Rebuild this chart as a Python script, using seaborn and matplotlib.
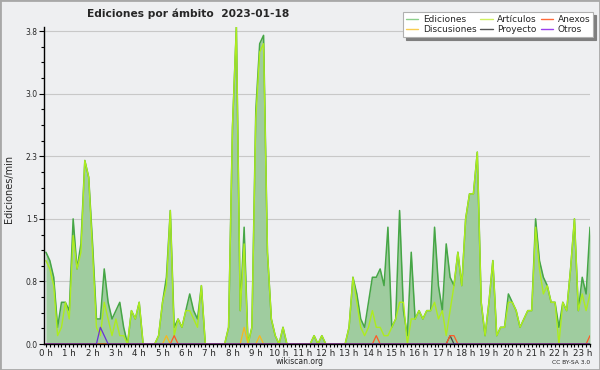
import numpy as np
import pandas as pd
import matplotlib
matplotlib.use("Agg")
import matplotlib.pyplot as plt
from matplotlib.lines import Line2D
from matplotlib.patches import Rectangle
import seaborn as sns

# Ediciones por minuto, tramos de 10 minutos (00:00 .. 23:20)
ediciones = [
    1.1, 1.0, 0.8, 0.2, 0.5, 0.5, 0.4, 1.5, 0.9, 1.2, 2.2, 2.0,
    1.2, 0.3, 0.3, 0.9, 0.5, 0.3, 0.4, 0.5, 0.2, 0.0, 0.4, 0.3,
    0.5, 0.0, 0.0, 0.0, 0.0, 0.1, 0.5, 0.8, 1.6, 0.2, 0.3, 0.2,
    0.4, 0.6, 0.4, 0.3, 0.7, 0.0, 0.0, 0.0, 0.0, 0.0, 0.0, 0.2,
    2.6, 3.8, 0.4, 1.4, 0.0, 0.2, 2.8, 3.6, 3.7, 1.1, 0.3, 0.1,
    0.0, 0.2, 0.0, 0.0, 0.0, 0.0, 0.0, 0.0, 0.0, 0.1, 0.0, 0.1,
    0.0, 0.0, 0.0, 0.0, 0.0, 0.0, 0.2, 0.8, 0.6, 0.3, 0.2, 0.5,
    0.8, 0.8, 0.9, 0.7, 1.4, 0.2, 0.3, 1.6, 0.4, 0.1, 1.1, 0.3,
    0.4, 0.3, 0.4, 0.4, 1.4, 0.7, 0.4, 1.2, 0.8, 0.7, 1.1, 0.7,
    1.5, 1.8, 1.8, 2.3, 0.5, 0.1, 0.5, 1.0, 0.1, 0.2, 0.2, 0.6,
    0.5, 0.4, 0.2, 0.3, 0.4, 0.4, 1.5, 1.0, 0.8, 0.7, 0.5, 0.5,
    0.2, 0.5, 0.4, 0.9, 1.5, 0.4, 0.8, 0.6, 1.4,
]
articulos = [
    1.0, 0.9, 0.7, 0.1, 0.2, 0.5, 0.3, 1.3, 0.9, 1.1, 2.2, 2.0,
    1.1, 0.2, 0.1, 0.5, 0.3, 0.1, 0.3, 0.1, 0.1, 0.0, 0.4, 0.3,
    0.5, 0.0, 0.0, 0.0, 0.0, 0.1, 0.5, 0.7, 1.6, 0.1, 0.3, 0.2,
    0.4, 0.4, 0.3, 0.2, 0.7, 0.0, 0.0, 0.0, 0.0, 0.0, 0.0, 0.2,
    2.6, 3.8, 0.4, 1.2, 0.0, 0.2, 2.7, 3.5, 3.6, 1.1, 0.3, 0.1,
    0.0, 0.2, 0.0, 0.0, 0.0, 0.0, 0.0, 0.0, 0.0, 0.1, 0.0, 0.1,
    0.0, 0.0, 0.0, 0.0, 0.0, 0.0, 0.2, 0.8, 0.5, 0.2, 0.1, 0.2,
    0.4, 0.2, 0.2, 0.1, 0.1, 0.2, 0.3, 0.5, 0.5, 0.0, 0.3, 0.3,
    0.4, 0.3, 0.4, 0.4, 0.5, 0.3, 0.4, 0.1, 0.4, 0.7, 1.1, 0.7,
    1.5, 1.8, 1.8, 2.3, 0.5, 0.1, 0.5, 1.0, 0.1, 0.2, 0.2, 0.5,
    0.5, 0.4, 0.2, 0.3, 0.4, 0.4, 1.4, 0.9, 0.6, 0.7, 0.5, 0.5,
    0.0, 0.5, 0.4, 0.9, 1.5, 0.4, 0.6, 0.4, 0.6,
]
anexos = [
    0, 0, 0, 0, 0, 0, 0, 0, 0, 0, 0, 0,
    0, 0, 0, 0, 0, 0, 0, 0, 0, 0, 0, 0,
    0, 0, 0, 0, 0, 0, 0, 0, 0, 0.1, 0, 0,
    0, 0, 0, 0, 0, 0, 0, 0, 0, 0, 0, 0,
    0, 0, 0, 0, 0, 0, 0, 0, 0, 0, 0, 0,
    0, 0, 0, 0, 0, 0, 0, 0, 0, 0, 0, 0,
    0, 0, 0, 0, 0, 0, 0, 0, 0, 0, 0, 0,
    0, 0.1, 0, 0, 0, 0, 0, 0, 0, 0, 0, 0,
    0, 0, 0, 0, 0, 0, 0, 0, 0.1, 0.1, 0, 0,
    0, 0, 0, 0, 0, 0, 0, 0, 0, 0, 0, 0,
    0, 0, 0, 0, 0, 0, 0, 0, 0, 0, 0, 0,
    0, 0, 0, 0, 0, 0, 0, 0, 0.1,
]
discusiones = [
    0, 0, 0, 0, 0, 0, 0, 0, 0, 0, 0, 0,
    0, 0, 0, 0, 0, 0, 0, 0, 0, 0, 0, 0,
    0, 0, 0, 0, 0, 0, 0, 0.1, 0, 0, 0, 0,
    0, 0, 0, 0, 0, 0, 0, 0, 0, 0, 0, 0,
    0, 0, 0, 0.2, 0, 0, 0, 0.1, 0, 0, 0, 0,
    0, 0, 0, 0, 0, 0, 0, 0, 0, 0, 0, 0,
    0, 0, 0, 0, 0, 0, 0, 0, 0, 0, 0, 0,
    0, 0, 0, 0, 0, 0, 0, 0, 0, 0, 0, 0,
    0, 0, 0, 0, 0, 0, 0, 0, 0, 0, 0, 0,
    0, 0, 0, 0, 0, 0, 0, 0, 0, 0, 0, 0,
    0, 0, 0, 0, 0, 0, 0, 0, 0, 0, 0, 0,
    0, 0, 0, 0, 0, 0, 0, 0, 0,
]
proyecto = [
    0, 0, 0, 0, 0, 0, 0, 0, 0, 0, 0, 0,
    0, 0, 0, 0, 0, 0, 0, 0, 0, 0, 0, 0,
    0, 0, 0, 0, 0, 0, 0, 0, 0, 0, 0, 0,
    0, 0, 0, 0, 0, 0, 0, 0, 0, 0, 0, 0,
    0, 0, 0, 0, 0, 0, 0, 0, 0, 0, 0, 0,
    0, 0, 0, 0, 0, 0, 0, 0, 0, 0, 0, 0,
    0, 0, 0, 0, 0, 0, 0, 0, 0, 0, 0, 0,
    0, 0, 0, 0, 0, 0, 0, 0, 0, 0, 0, 0,
    0, 0, 0, 0, 0, 0, 0, 0, 0.1, 0, 0, 0,
    0, 0, 0, 0, 0, 0, 0, 0, 0, 0, 0, 0,
    0, 0, 0, 0, 0, 0, 0, 0, 0, 0, 0, 0,
    0, 0, 0, 0, 0, 0, 0, 0, 0,
]
otros = [
    0, 0, 0, 0, 0, 0, 0, 0, 0, 0, 0, 0,
    0, 0, 0.2, 0.1, 0, 0, 0, 0, 0, 0, 0, 0,
    0, 0, 0, 0, 0, 0, 0, 0, 0, 0, 0, 0,
    0, 0, 0, 0, 0, 0, 0, 0, 0, 0, 0, 0,
    0, 0, 0, 0, 0, 0, 0, 0, 0, 0, 0, 0,
    0, 0, 0, 0, 0, 0, 0, 0, 0, 0, 0, 0,
    0, 0, 0, 0, 0, 0, 0, 0, 0, 0, 0, 0,
    0, 0, 0, 0, 0, 0, 0, 0, 0, 0, 0, 0,
    0, 0, 0, 0, 0, 0, 0, 0, 0, 0, 0, 0,
    0, 0, 0, 0, 0, 0, 0, 0, 0, 0, 0, 0,
    0, 0, 0, 0, 0, 0, 0, 0, 0, 0, 0, 0,
    0, 0, 0, 0, 0, 0, 0, 0, 0,
]

etiquetas_y = ["0.0", "0.8", "1.5", "2.3", "3.0", "3.8"]
valores_y = [0, 0.75, 1.5, 2.25, 3.0, 3.75]

FONDO = "#eeeff1"
RELLENO = "#9fcc9f"
color_linea = {
    "Ediciones": "#46a646",
    "Artículos": "#adec1e",
    "Anexos": "#ff5a26",
    "Discusiones": "#f7b81c",
    "Proyecto": "#444444",
    "Otros": "#6a30d8",
}
color_leyenda = {
    "Ediciones": "#8ccf8c",
    "Artículos": "#d0f060",
    "Anexos": "#ff6a3a",
    "Discusiones": "#f8cc50",
    "Proyecto": "#555555",
    "Otros": "#9a40ee",
}

horas = np.arange(len(ediciones)) / 6.0
df = pd.DataFrame({
    "hora": horas,
    "Ediciones": ediciones,
    "Artículos": articulos,
    "Anexos": anexos,
    "Discusiones": discusiones,
    "Proyecto": proyecto,
    "Otros": otros,
})

sns.set_style("ticks")
plt.rcParams["font.family"] = ["DejaVu Sans"]

fig = plt.figure(figsize=(6, 3.7), dpi=100, facecolor=FONDO)
ax = fig.add_axes([44 / 600, 26 / 370, 546 / 600, 317 / 370])
ax.set_facecolor(FONDO)

ax.fill_between(df["hora"], df["Ediciones"], color=RELLENO, lw=0, zorder=1)
for serie, lw in [("Ediciones", 1.1), ("Artículos", 1.0), ("Discusiones", 0.9),
                  ("Proyecto", 0.9), ("Anexos", 0.9), ("Otros", 0.9)]:
    sns.lineplot(data=df, x="hora", y=serie, color=color_linea[serie], lw=lw,
                 estimator=None, ax=ax, zorder=3)

ax.set_xlim(-0.5 / 6, (len(ediciones) - 1) / 6)
ax.set_ylim(0, 3.8)

ax.set_xticks(range(24))
ax.set_xticklabels([f"{h} h" for h in range(24)])
ax.set_xticks(horas, minor=True)
ax.set_yticks(valores_y)
ax.set_yticklabels(etiquetas_y)
ax.set_yticks(np.arange(0, 3.8, 0.1875), minor=True)

ax.tick_params(axis="both", which="both", direction="out", color="black", width=0.8)
ax.tick_params(axis="x", which="both", length=2.5, labelsize=6.3, pad=1)
ax.tick_params(axis="y", which="major", length=3.5, labelsize=5.5, pad=1)
ax.tick_params(axis="y", which="minor", length=2.2)

ax.yaxis.grid(True, which="major", color="#c8c8c8", lw=0.8)
ax.set_axisbelow(True)
for lado in ["top", "right"]:
    ax.spines[lado].set_visible(False)
for lado in ["left", "bottom"]:
    ax.spines[lado].set_color("black")
    ax.spines[lado].set_linewidth(1.0)
    ax.spines[lado].set_zorder(10)

ax.set_xlabel("")
ax.set_ylabel("Ediciones/min", fontsize=7)
ax.yaxis.set_label_coords(-30 / 546, 0.49)

fig.text(188 / 600, 1 - 14 / 370, "Ediciones por ámbito  2023-01-18",
         ha="center", va="center", fontsize=7.7, fontweight="bold")
fig.text(300 / 600, 1 - 361 / 370, "wikiscan.org", ha="center", va="center", fontsize=5.5)
fig.text(590 / 600, 1 - 362 / 370, "CC BY-SA 3.0", ha="right", va="center", fontsize=4.3)

orden = ["Ediciones", "Discusiones", "Artículos", "Proyecto", "Anexos", "Otros"]
manijas = [Line2D([], [], color=color_leyenda[n], lw=1.0) for n in orden]
leg = fig.legend(manijas, orden, ncol=3, loc="upper right",
                 bbox_to_anchor=(593 / 600, 1 - 12 / 370), bbox_transform=fig.transFigure,
                 fontsize=6.5, frameon=True, fancybox=False,
                 shadow={"facecolor": "#7f7f7f", "edgecolor": "#7f7f7f", "alpha": 1},
                 handlelength=1.4, handletextpad=0.5, columnspacing=0.4,
                 labelspacing=0.15, borderpad=0.3, borderaxespad=0)
leg.get_frame().set_facecolor("white")
leg.get_frame().set_edgecolor("#b0b0b0")
leg.get_frame().set_linewidth(0.8)

fig.patches.append(Rectangle((0, 0), 1, 1, transform=fig.transFigure, fill=False,
                             edgecolor="#a8a8a8", lw=2))

fig.savefig("out.png", dpi=100, facecolor=FONDO)
